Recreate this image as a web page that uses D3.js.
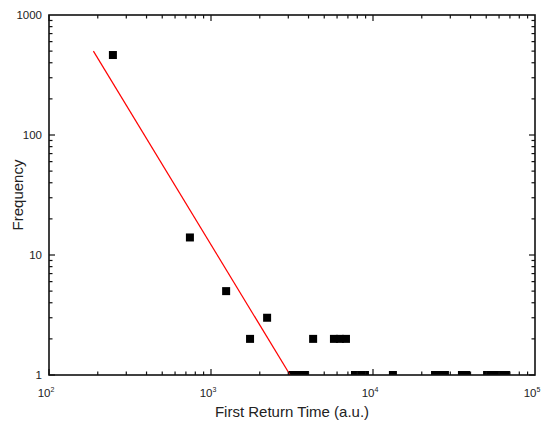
<!DOCTYPE html>
<html>
<head>
<meta charset="utf-8">
<script src="https://cdn.jsdelivr.net/npm/d3@7"></script>
<style>
  body { margin: 0; background: #fff; }
  text { font-family: "Liberation Sans", Arial, sans-serif; fill: #222; }
</style>
</head>
<body>
<script>
/* Data */
const returnTime = [248, 741, 1240, 1742, 2220,
  4270, 5740, 6250, 6810,
  3200, 3490, 3800, 7740, 8320, 8920, 13270,
  24150, 25940, 27800, 35400, 37500, 50600, 55100, 60800, 66200]
const frequency = [464, 14, 5, 2, 3,
  2, 2, 2, 2,
  1, 1, 1, 1, 1, 1, 1,
  1, 1, 1, 1, 1, 1, 1, 1, 1]

/* Fitted power law, end points */
const fitTime = [188, 3080]
const fitFreq = [500, 1]

const xDecades = [100, 1000, 10000, 100000]
const xExponents = ["2", "3", "4", "5"]
const yDecades = [1, 10, 100, 1000]
const yLabels = ["1", "10", "100", "1000"]

/* Define svg-size. */
const width = 542
const height = 422
const margin = { top: 15, right: 7, bottom: 47, left: 49 }

const svg = d3.select("body")
  .append("svg")
  .attr("width", width)
  .attr("height", height)

/* Scales */
const x = d3.scaleLog()
  .domain([100, 100000])
  .range([margin.left, width - margin.right])

const y = d3.scaleLog()
  .domain([1, 1000])
  .range([height - margin.bottom, margin.top])

const x0 = margin.left, x1 = width - margin.right
const y0 = height - margin.bottom, y1 = margin.top

/* Clip for marks */
svg.append("clipPath")
  .attr("id", "plot")
  .append("rect")
  .attr("x", x0)
  .attr("y", y1)
  .attr("width", x1 - x0)
  .attr("height", y0 - y1)

const marks = svg.append("g").attr("clip-path", "url(#plot)")

/* Squares */
marks.selectAll("rect.pt")
  .data(returnTime)
  .enter()
  .append("rect")
  .attr("class", "pt")
  .attr("x", d => x(d) - 4)
  .attr("y", (d, i) => y(frequency[i]) - 4)
  .attr("width", 8)
  .attr("height", 8)
  .attr("fill", "#000")

/* Fit line */
marks.append("path")
  .datum(fitTime.map((d, i) => [d, fitFreq[i]]))
  .attr("d", d3.line().x(d => x(d[0])).y(d => y(d[1])))
  .attr("fill", "none")
  .attr("stroke", "red")
  .attr("stroke-width", 1.2)

/* Ticks: all four sides, pointing inward */
const minorX = []
d3.range(2, 5).forEach(e => d3.range(1, 10).forEach(m => minorX.push(m * Math.pow(10, e))))
const minorY = []
d3.range(0, 3).forEach(e => d3.range(1, 10).forEach(m => minorY.push(m * Math.pow(10, e))))

const tickLen = v => (String(v)[0] === "1") ? 6 : 3.5

const ticks = svg.append("g")
  .attr("stroke", "#111")
  .attr("stroke-width", 1.2)

minorX.forEach(v => {
  ticks.append("line").attr("x1", x(v)).attr("x2", x(v)).attr("y1", y0).attr("y2", y0 - tickLen(v))
  ticks.append("line").attr("x1", x(v)).attr("x2", x(v)).attr("y1", y1).attr("y2", y1 + tickLen(v))
})
minorY.forEach(v => {
  ticks.append("line").attr("y1", y(v)).attr("y2", y(v)).attr("x1", x0).attr("x2", x0 + tickLen(v))
  ticks.append("line").attr("y1", y(v)).attr("y2", y(v)).attr("x1", x1).attr("x2", x1 - tickLen(v))
})

/* Frame */
svg.append("rect")
  .attr("x", x0)
  .attr("y", y1)
  .attr("width", x1 - x0)
  .attr("height", y0 - y1)
  .attr("fill", "none")
  .attr("stroke", "#111")
  .attr("stroke-width", 1.6)

/* Tick labels */
svg.selectAll("text.ylab")
  .data(yDecades)
  .enter()
  .append("text")
  .attr("class", "ylab")
  .attr("x", x0 - 7)
  .attr("y", d => y(d) + 4)
  .attr("text-anchor", "end")
  .attr("font-size", 11.5)
  .text((d, i) => yLabels[i])

const xl = svg.selectAll("text.xlab")
  .data(xDecades)
  .enter()
  .append("text")
  .attr("class", "xlab")
  .attr("x", d => x(d) - 3)
  .attr("y", y0 + 22)
  .attr("text-anchor", "middle")
  .attr("font-size", 11.5)

xl.append("tspan").text("10")
xl.append("tspan")
  .attr("dy", -5)
  .attr("font-size", 7)
  .text((d, i) => xExponents[i])

/* Axis titles */
svg.append("text")
  .attr("x", (x0 + x1) / 2)
  .attr("y", height - 5)
  .attr("text-anchor", "middle")
  .attr("font-size", 15)
  .text("First Return Time (a.u.)")

svg.append("text")
  .attr("transform", `translate(23, ${(y0 + y1) / 2}) rotate(-90)`)
  .attr("text-anchor", "middle")
  .attr("font-size", 15)
  .text("Frequency")
</script>
</body>
</html>
